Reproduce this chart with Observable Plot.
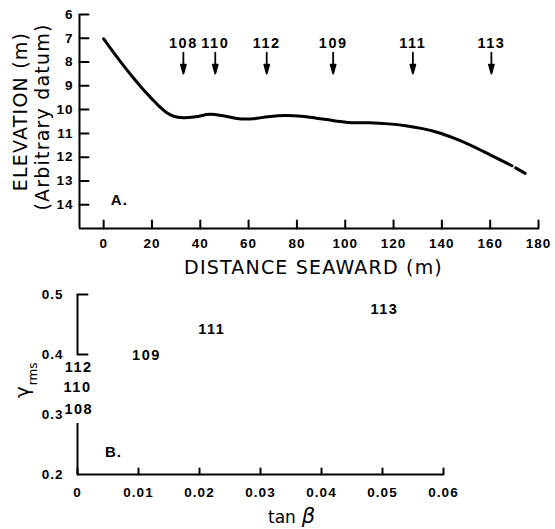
<!DOCTYPE html>
<html><head><meta charset="utf-8">
<script src="https://cdn.jsdelivr.net/npm/d3@7"></script>
<script src="https://cdn.jsdelivr.net/npm/@observablehq/plot@0.6"></script>
<style>
body{margin:0;background:#fff;width:555px;height:529px;overflow:hidden}
svg{display:block}
g[font-family="Liberation Sans"]{letter-spacing:1px}
g[font-size="14.5"]{letter-spacing:1.5px}
g[font-family="DejaVu Sans"]{letter-spacing:1.2px}
</style></head><body><div id="chart"></div>
<script>
// ---- Panel A data ----
const profileDist = [0, 4, 8, 12, 16, 20, 23, 26, 29, 33, 38, 44, 50, 56, 62, 68, 75, 82, 88, 93, 98, 103, 110, 118, 125, 132, 138, 145, 152, 160, 169];
const profileElev = [7.02, 7.58, 8.12, 8.63, 9.11, 9.55, 9.86, 10.12, 10.28, 10.34, 10.3, 10.2, 10.27, 10.38, 10.38, 10.3, 10.25, 10.28, 10.36, 10.43, 10.5, 10.55, 10.55, 10.6, 10.68, 10.8, 10.95, 11.2, 11.5, 11.9, 12.36];
const dashDist = [170.5, 174.5];
const dashElev = [12.45, 12.68];
const stationIds = ["108", "110", "112", "109", "111", "113"];
const stationDist = [33, 46.2, 67.5, 95, 128, 160.5];
const xDomainA = [-10, 180];
const yDomainA = [15, 6];
const xTicksA = [0, 20, 40, 60, 80, 100, 120, 140, 160, 180];
const yTicksA = [6, 7, 8, 9, 10, 11, 12, 13, 14];
const arrowTopElev = 7.6;
const arrowLabelElev = 7.2;
const panelLabelA = {text: "A.", x: 6.5, y: 13.8};

// ---- Panel B data ----
const pointIds = ["108", "110", "112", "109", "111", "113"];
const tanBeta = [0.0002, 0.0, 0.0002, 0.0113, 0.022, 0.0503];
const gammaRms = [0.309, 0.345, 0.378, 0.398, 0.4425, 0.475];
const xDomainB = [0, 0.06];
const yDomainB = [0.2, 0.5];
const xTicksB = [0, 0.01, 0.02, 0.03, 0.04, 0.05, 0.06];
const yTicksB = [0.2, 0.3, 0.4, 0.5];
const yTickMarksB = [0.4, 0.5];
const yAxisSegB = [[0.4, 0.5], [0.2, 0.285]];
const panelLabelB = {text: "B.", x: 0.0059, y: 0.237};

const tickShape = {draw(ctx, l) { ctx.moveTo(0, 0); ctx.lineTo(0, -l); }};
const arrowShape = {draw(ctx, l) {
  ctx.moveTo(0, 0); ctx.lineTo(0, -l + 8);
  ctx.moveTo(-2.5, -l + 9); ctx.lineTo(0, -l); ctx.lineTo(2.5, -l + 9); ctx.closePath();
}};

const numFont = {fontFamily: "Liberation Sans", fontWeight: "bold", fontSize: 13.5, fill: "black"};
const idFont = {fontFamily: "Liberation Sans", fontWeight: "bold", fontSize: 14.5, fill: "black"};
const titleFont = {fontFamily: "DejaVu Sans", fontSize: 19, fill: "black"};

const profile = profileDist.map((d, i) => ({d, e: profileElev[i]}));
const dash = dashDist.map((d, i) => ({d, e: dashElev[i]}));
const stations = stationIds.map((id, i) => ({id, d: stationDist[i]}));

const plotA = Plot.plot({
  width: 555, height: 280,
  marginLeft: 79, marginRight: 17, marginTop: 14, marginBottom: 52,
  x: {domain: xDomainA, axis: null},
  y: {domain: yDomainA, axis: null},
  style: {background: "white"},
  marks: [
    Plot.ruleY([yDomainA[0]], {stroke: "black", strokeWidth: 2}),
    Plot.ruleX([xDomainA[0]], {stroke: "black", strokeWidth: 2}),
    Plot.vector(xTicksA, {x: d => d, y: yDomainA[0], length: 8, rotate: 0, anchor: "start", shape: tickShape, stroke: "black", strokeWidth: 2}),
    Plot.vector(yTicksA, {x: xDomainA[0], y: d => d, length: 9, rotate: 90, anchor: "start", shape: tickShape, stroke: "black", strokeWidth: 2}),
    Plot.text(xTicksA, {x: d => d, y: yDomainA[0], dy: 15, text: d => String(d), lineAnchor: "middle", ...numFont}),
    Plot.text(yTicksA, {x: xDomainA[0], y: d => d, dx: -6, text: d => String(d), textAnchor: "end", lineAnchor: "middle", ...numFont}),
    Plot.line(profile, {x: "d", y: "e", stroke: "black", strokeWidth: 3, curve: "catmull-rom"}),
    Plot.line(dash, {x: "d", y: "e", stroke: "black", strokeWidth: 3}),
    Plot.vector(stations, {x: "d", y: arrowTopElev, length: 21, rotate: 180, anchor: "start", shape: arrowShape, stroke: "black", fill: "black", strokeWidth: 1.8}),
    Plot.text(stations, {x: "d", y: arrowLabelElev, text: "id", lineAnchor: "middle", ...idFont}),
    Plot.text([panelLabelA], {x: "x", y: "y", text: "text", lineAnchor: "middle", fontFamily: "Liberation Sans", fontWeight: "bold", fontSize: 15}),
    Plot.text(["DISTANCE SEAWARD (m)"], {frameAnchor: "bottom", dy: 45, dx: 4.5, lineAnchor: "bottom", ...titleFont}),
    Plot.text(["ELEVATION (m)"], {frameAnchor: "left", textAnchor: "middle", rotate: -90, dx: -58.5, dy: -10, lineAnchor: "middle", ...titleFont}),
    Plot.text(["(Arbitrary datum)"], {frameAnchor: "left", textAnchor: "middle", rotate: -90, dx: -37, dy: -4.5, lineAnchor: "middle", ...titleFont})
  ]
});

const points = pointIds.map((id, i) => ({id, t: tanBeta[i], g: gammaRms[i]}));

const plotB = Plot.plot({
  width: 555, height: 249,
  marginLeft: 77, marginRight: 112, marginTop: 14, marginBottom: 55,
  x: {domain: xDomainB, axis: null},
  y: {domain: yDomainB, axis: null},
  style: {background: "white"},
  marks: [
    Plot.ruleY([yDomainB[0]], {stroke: "black", strokeWidth: 2}),
    Plot.ruleX(yAxisSegB, {x: xDomainB[0], y1: d => d[0], y2: d => d[1], stroke: "black", strokeWidth: 2}),
    Plot.vector(xTicksB, {x: d => d, y: yDomainB[0], length: 6, rotate: 0, anchor: "start", shape: tickShape, stroke: "black", strokeWidth: 2}),
    Plot.vector(yTickMarksB, {x: xDomainB[0], y: d => d, length: 10, rotate: 90, anchor: "start", shape: tickShape, stroke: "black", strokeWidth: 2}),
    Plot.text(xTicksB, {x: d => d, y: yDomainB[0], dy: 18, text: d => d === 0 ? "0" : d.toFixed(2), lineAnchor: "middle", ...numFont}),
    Plot.text(yTicksB, {x: xDomainB[0], y: d => d, dx: -14, text: d => d.toFixed(1), textAnchor: "end", lineAnchor: "middle", ...numFont}),
    Plot.text(points, {x: "t", y: "g", text: "id", lineAnchor: "middle", ...idFont}),
    Plot.text([panelLabelB], {x: "x", y: "y", text: "text", lineAnchor: "middle", fontFamily: "Liberation Sans", fontWeight: "bold", fontSize: 15})
  ]
});

// axis titles with sub/italic parts
const sb = d3.select(plotB);
const tb = sb.append("text").attr("x", 268).attr("y", 243).attr("text-anchor", "start")
  .attr("font-family", "DejaVu Sans").attr("font-size", 17).attr("fill", "black");
tb.append("tspan").text("tan");
tb.append("tspan").attr("dx", 6).attr("font-style", "italic").attr("font-size", 21).text("β");
const tg = sb.append("text").attr("transform", "translate(29,118) rotate(-90)").attr("text-anchor", "start")
  .attr("font-family", "DejaVu Sans").attr("fill", "black");
tg.append("tspan").attr("font-size", 20).text("γ");
tg.append("tspan").attr("font-size", 12).attr("dy", 8).attr("dx", 1).text("rms");

const root = document.getElementById("chart");
root.append(plotA);
root.append(plotB);
</script></body></html>
